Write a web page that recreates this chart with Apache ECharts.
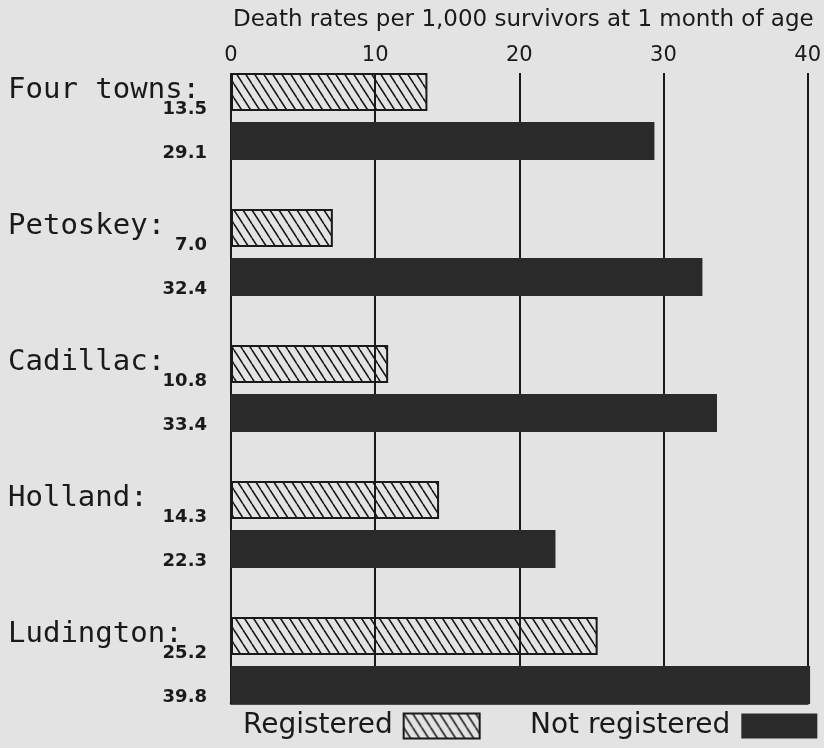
<!DOCTYPE html>
<html>
<head>
<meta charset="utf-8">
<script src="https://cdn.jsdelivr.net/npm/echarts@6/dist/echarts.min.js"></script>
<style>
  html, body { margin: 0; padding: 0; background: #e3e3e3; }
  #chart { width: 824px; height: 748px; }
</style>
</head>
<body>
<div id="chart"></div>
<script>
// ---- data ----
const towns = ['Four towns', 'Petoskey', 'Cadillac', 'Holland', 'Ludington'];
const registered = [13.5, 7.0, 10.8, 14.3, 25.2];
const notRegistered = [29.1, 32.4, 33.4, 22.3, 39.8];
const xTicks = [0, 10, 20, 30, 40];
const titleText = 'Death rates per 1,000 survivors at 1 month of age';
const seriesNames = ['Registered', 'Not registered'];

// ---- hatch pattern ----
function makeHatch() {
  const w = 9, h = 14;
  const c = document.createElement('canvas');
  c.width = w; c.height = h;
  const ctx = c.getContext('2d');
  ctx.strokeStyle = '#151515';
  ctx.lineWidth = 1.5;
  for (const off of [-w, 0, w]) {
    ctx.beginPath();
    ctx.moveTo(off, 0);
    ctx.lineTo(off + w, h);
    ctx.stroke();
  }
  return c;
}
const hatch = { image: makeHatch(), repeat: 'repeat' };

const ink = '#1a1a1a';
const legendCommon = {
  top: 712,
  padding: 0,
  align: 'right',
  icon: 'rect',
  itemWidth: 76,
  itemHeight: 25,
  textStyle: { fontFamily: 'DejaVu Sans', fontSize: 28, color: ink, padding: [0, 6, 0, 0] }
};
const chart = echarts.init(document.getElementById('chart'), null, { renderer: 'canvas' });

chart.setOption({
  backgroundColor: '#e3e3e3',
  animation: false,
  title: {
    text: titleText,
    left: 228,
    top: 4,
    textStyle: { fontFamily: 'DejaVu Sans', fontSize: 23, fontWeight: 'normal', color: ink }
  },
  legend: [
    Object.assign({ data: [seriesNames[0]], left: 243 }, legendCommon),
    Object.assign({ data: [seriesNames[1]], left: 530 }, legendCommon)
  ],
  grid: [
    { left: 231, right: 11, top: 73, height: 630 },      // frame grid
    { left: 231, right: 11, top: 48.5, height: 680 }     // bar grid
  ],
  xAxis: [
    {
      gridIndex: 0, type: 'value', position: 'top', min: 0, max: 40, interval: 10,
      axisLine: { show: true, lineStyle: { color: ink, width: 2.5 } },
      axisTick: { show: false },
      splitLine: { show: true, lineStyle: { color: ink, width: 2 } },
      axisLabel: {
        margin: 7,
        fontFamily: 'DejaVu Sans', fontSize: 21, color: ink,
        formatter: v => xTicks.includes(v) ? String(v) : ''
      }
    },
    { gridIndex: 1, type: 'value', min: 0, max: 40, show: false }
  ],
  yAxis: [
    { gridIndex: 0, type: 'value', show: false, min: 0, max: 1 },
    {
      gridIndex: 1, type: 'category', inverse: true, data: towns,
      axisLine: { show: false }, axisTick: { show: false }, splitLine: { show: false },
      axisLabel: {
        margin: 24,
        width: 204,
        padding: [35, 0, 0, 0],
        formatter: (value, idx) =>
          '{n|' + value + ':}\n{r|' + registered[idx].toFixed(1) + '}\n{v|' + notRegistered[idx].toFixed(1) + '}',
        rich: {
          n: { fontFamily: 'DejaVu Sans Mono', fontSize: 29, lineHeight: 19, align: 'left', color: ink, padding: [0, 0, 0, 5] },
          r: { fontFamily: 'DejaVu Sans', fontSize: 18, fontWeight: 'bold', lineHeight: 19, align: 'right', color: ink },
          v: { fontFamily: 'DejaVu Sans', fontSize: 18, fontWeight: 'bold', lineHeight: 69, align: 'right', color: ink }
        }
      }
    }
  ],
  series: [
    {
      name: seriesNames[0], type: 'bar', xAxisIndex: 1, yAxisIndex: 1,
      data: registered, barWidth: 38, barGap: '29%',
      itemStyle: { color: hatch, borderColor: ink, borderWidth: 2 }
    },
    {
      name: seriesNames[1], type: 'bar', xAxisIndex: 1, yAxisIndex: 1,
      data: notRegistered, barWidth: 38, barGap: '29%',
      itemStyle: { color: '#2a2a2a' }
    }
  ]
});
</script>
</body>
</html>
